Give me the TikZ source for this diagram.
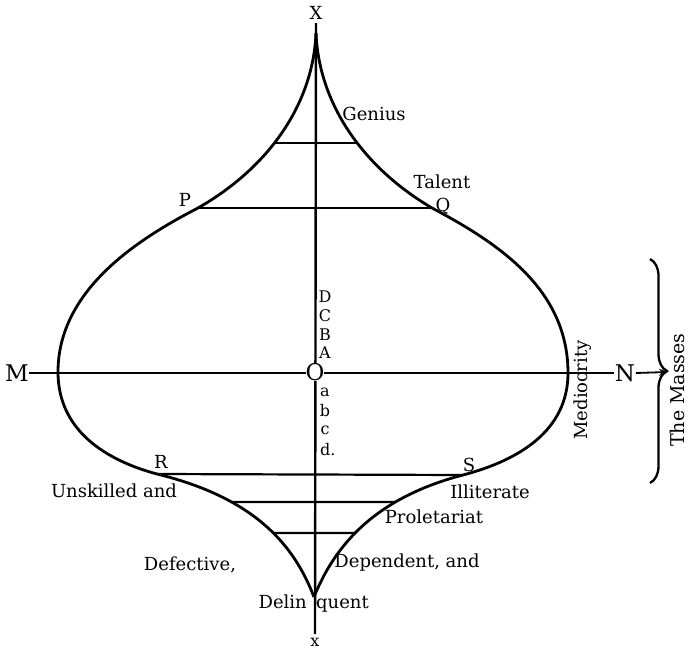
\documentclass[tikz,border=0pt]{standalone}
\usepackage{fontspec}
\setmainfont{DejaVu Serif}
\usetikzlibrary{arrows.meta,decorations.pathreplacing,intersections}
\begin{document}
\begin{tikzpicture}[x=1pt,y=-1pt,
  lab/.style={inner sep=0pt,font=\fontsize{18}{21}\selectfont},
  biglab/.style={inner sep=0.5pt,font=\fontsize{23}{27}\selectfont},
  sml/.style={inner sep=0pt,font=\fontsize{16}{19}\selectfont},
  curve/.style={line width=2.8pt,line join=round},
  hline/.style={line width=2.2pt},
  axis/.style={line width=2.4pt}]
\useasboundingbox (0,0) rectangle (689,651);
% cusps and widest points
\coordinate (top) at (316,33);
\coordinate (bot) at (314,597);
\coordinate (P) at (198,208); \coordinate (Q) at (432,208);
\coordinate (R) at (157,474); \coordinate (S) at (463,475);
\coordinate (wL) at (58,372); \coordinate (wR) at (568,373);
% right side
\draw[curve,name path=rside] (top) .. controls (319,105) and (364,168) .. (Q)
  .. controls (500,244) and (568,290) .. (wR)
  .. controls (568,430) and (520,460) .. (S)
  .. controls (375,498) and (335,545) .. (bot);
% left side
\draw[curve,name path=lside] (top) .. controls (313,105) and (268,168) .. (P)
  .. controls (138,239) and (58,290) .. (wL)
  .. controls (58,430) and (105,460) .. (R)
  .. controls (255,498) and (294,545) .. (bot);
% chords found on the curves
\path[name path=h1] (0,143) -- (689,143);
\path[name path=h2] (0,502) -- (689,502);
\path[name path=h3] (0,533) -- (689,533);
\path[name intersections={of=lside and h1,by=gL}];
\path[name intersections={of=rside and h1,by=gR}];
\path[name intersections={of=lside and h2,by=uL}];
\path[name intersections={of=rside and h2,by=uR}];
\path[name intersections={of=lside and h3,by=vL}];
\path[name intersections={of=rside and h3,by=vR}];
\draw[hline] (gL) -- (gR);
\draw[hline] (P) -- (Q);
\draw[hline] (R) -- (S);
\draw[hline] (uL) -- (uR);
\draw[hline] (vL) -- (vR);
% axes
\node[lab] (Xt) at (316,13) {X};
\node[sml] (xb) at (315,642) {x};
\coordinate (vt) at (316,23);
\coordinate (vb) at (315,634);
\draw[axis] (vt) -- (vb);
\node[biglab] (M) at (17,373) {M};
\node[biglab] (N) at (625,373) {N};
\draw[axis] (M.east) -- (N.west);
\coordinate (tip) at (668,372);
\draw[line width=1.8pt,-{Stealth[length=9pt,width=7pt]}] (N.east) -- (tip);
\node[biglab,fill=white,inner sep=0pt] (O) at (315,372) {O};
% brace
\coordinate (b1) at (650,259);
\coordinate (b2) at (650,483);
\draw[line width=2.3pt,decorate,decoration={brace,amplitude=17pt}] (b1) -- (b2);
\node[lab,rotate=90,font=\fontsize{19}{23}\selectfont] (mass) at (677,390) {The Masses};
\node[lab,rotate=90] (med) at (583,390) {Mediocrity};
% letters on axis
\node[sml] (D) at (325,297) {D};
\node[sml] (C) at (325,316) {C};
\node[sml] (B) at (325,335) {B};
\node[sml] (A) at (325,353) {A};
\node[sml] (la) at (325,392) {a};
\node[sml] (lb) at (325,411) {b};
\node[sml] (lc) at (325,430) {c};
\node[sml,anchor=base west] (ld) at (320,455) {d.};
% labels
\node[lab] (gen) at (374,114) {Genius};
\node[lab] (tal) at (442,182) {Talent};
\node[lab] (Pl) at (185,200) {P};
\node[lab] (Ql) at (443,206) {Q};
\node[lab] (Rl) at (161,462) {R};
\node[lab] (Sl) at (469,465) {S};
\node[lab] (uns) at (114,491) {Unskilled and};
\node[lab] (ill) at (490,492) {Illiterate};
\node[lab] (pro) at (434,517) {Proletariat};
\node[lab] (def) at (190,565) {Defective,};
\node[lab] (dep) at (407,563) {Dependent, and};
\node[lab,anchor=base east] (del1) at (307,608) {Delin};
\node[lab,anchor=base west] (del2) at (316,608) {quent};
\end{tikzpicture}
\end{document}
